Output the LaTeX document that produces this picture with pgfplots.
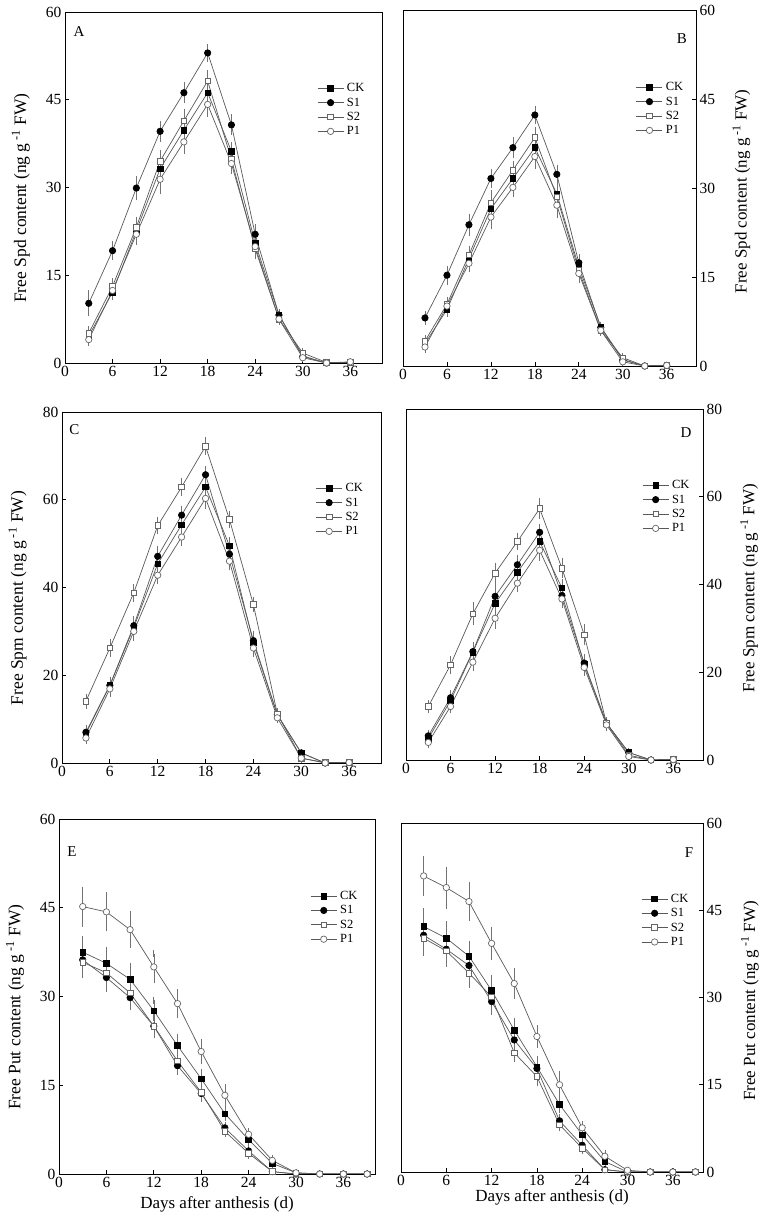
\documentclass[border=0pt]{standalone}
\usepackage{fontspec}
\setmainfont{Liberation Serif}
\usepackage{pgfplots}
\usepackage{pgfplotstable}
\pgfplotsset{compat=1.18}

\newcommand{\fs}[1]{\fontsize{#1}{#1}\selectfont}

% Spd, first set (A)
\pgfplotstableread{
x  ck   cke  s1   s1e  s2   s2e  p1   p1e
3  4.6  0.6  10.2 1.6  5.1  0.6  4.0  0.5
6  12.1 0.7  19.2 1.0  13.1 0.8  12.4 0.7
9  22.6 1.2  29.9 1.5  23.2 1.2  22.0 1.2
12 33.2 1.3  39.6 1.2  34.5 1.3  31.4 2.0
15 39.8 1.5  46.2 1.2  41.4 1.5  37.8 1.4
18 46.2 1.5  53.0 0.9  48.2 1.2  44.2 1.6
21 36.2 1.0  40.7 1.2  34.8 1.2  34.1 1.2
24 20.5 1.2  22.0 1.2  19.5 1.2  19.9 1.2
27 8.2  0.4  8.2  0.4  7.5  0.4  7.5  0.4
30 1.2  0.2  1.1  0.2  1.7  0.2  0.9  0.2
33 0.0  0    0.0  0    0.1  0    0.0  0
36 0.1  0    0.1  0    0.1  0    0.2  0
}\tblA

% Spd, second set (B)
\pgfplotstableread{
x  ck   cke  s1   s1e  s2   s2e  p1   p1e
3  3.8  0.5  8.1  0.6  4.2  0.5  3.2  0.4
6  9.5  0.6  15.3 1.0  10.4 0.7  10.1 0.6
9  18.1 1.0  23.8 1.3  18.7 1.0  17.3 0.9
12 26.5 1.3  31.6 1.0  27.5 1.5  25.1 1.5
15 31.6 1.2  36.8 1.2  33.0 1.0  30.1 1.0
18 36.8 1.3  42.3 1.0  38.5 1.2  35.3 1.5
21 29.0 1.0  32.3 1.0  28.5 1.5  27.1 1.5
24 16.7 1.0  17.4 0.9  16.1 1.0  15.6 1.0
27 6.6  0.3  6.5  0.3  6.0  0.3  6.0  0.3
30 1.1  0.2  1.0  0.2  1.4  0.2  0.7  0.2
33 0.0  0    0.0  0    0.0  0    0.0  0
36 0.1  0    0.1  0    0.1  0    0.1  0
}\tblB

% Spm (C)
\pgfplotstableread{
x  ck   cke  s1   s1e  s2   s2e  p1   p1e
3  6.7  0.8  7.0  0.8  14.1 0.9  5.7  0.6
6  17.7 1.0  17.7 1.1  26.2 1.2  16.9 1.0
9  30.9 1.3  31.3 1.3  38.8 1.3  30.0 1.3
12 45.4 1.5  47.1 1.5  54.1 1.2  42.8 1.3
15 54.3 1.3  56.5 1.3  62.9 1.2  51.5 1.3
18 62.9 1.5  65.7 1.2  72.2 1.2  60.3 1.5
21 49.5 1.2  47.6 1.2  55.5 1.2  46.0 1.2
24 27.4 1.3  27.9 1.3  36.1 1.0  26.2 1.2
27 11.0 0.5  11.0 0.5  11.2 0.5  10.3 0.5
30 2.3  0.2  2.3  0.2  1.1  0.2  1.1  0.2
33 0.0  0    0.0  0    0.1  0    0.0  0
36 0.1  0    0.1  0    0.1  0    0.1  0
}\tblC

% Spm (D)
\pgfplotstableread{
x  ck   cke  s1   s1e  s2   s2e  p1   p1e
3  4.9  0.6  5.5  0.6  12.2 0.7  4.0  0.5
6  13.5 0.9  14.2 0.9  21.7 1.3  12.2 0.8
9  24.6 1.3  24.7 1.3  33.3 1.8  22.3 1.3
12 35.7 1.5  37.3 2.0  42.6 1.6  32.3 1.6
15 42.8 1.3  44.5 1.5  49.8 1.2  40.3 1.3
18 49.8 1.5  51.9 1.2  57.3 1.6  47.8 1.6
21 39.2 1.3  37.5 1.3  43.7 1.5  36.7 1.3
24 21.8 1.2  22.1 1.2  28.5 1.6  21.1 1.2
27 8.4  0.5  8.4  0.5  8.4  0.5  8.0  0.5
30 1.7  0.2  1.7  0.2  1.1  0.2  0.8  0.2
33 0.0  0    0.0  0    0.0  0    0.0  0
36 0.1  0    0.1  0    0.1  0    0.1  0
}\tblD

% Put (E)
\pgfplotstableread{
x  ck   cke  s1   s1e  s2   s2e  p1   p1e
3  37.5 2.2  36.2 2.2  35.8 2.0  45.2 2.8
6  35.6 2.2  33.2 1.8  34.0 2.0  44.3 2.7
9  32.9 2.2  29.8 1.5  30.6 1.8  41.3 2.5
12 27.6 1.8  25.0 1.5  25.0 1.5  35.0 2.2
15 21.7 1.3  18.3 1.0  19.1 1.0  28.8 1.8
18 16.1 1.0  13.6 0.8  13.8 0.8  20.7 1.6
21 10.2 0.6  7.8  0.4  7.2  0.4  13.3 1.3
24 5.8  0.4  3.9  0.3  3.5  0.3  6.7  0.5
27 1.8  0.3  0.4  0.2  0.4  0.2  2.3  0.3
30 0.2  0    0.0  0    0.0  0    0.2  0
33 0.0  0    0.0  0    0.0  0    0.0  0
36 0.0  0    0.0  0    0.0  0    0.0  0
39 0.0  0    0.0  0    0.0  0    0.0  0
}\tblE

% Put (F)
\pgfplotstableread{
x  ck   cke  s1   s1e  s2   s2e  p1   p1e
3  42.2 2.5  40.7 2.5  40.2 2.5  50.9 2.8
6  40.2 2.3  38.3 2.3  38.0 2.2  48.9 3.0
9  37.1 2.0  35.5 2.0  34.2 2.0  46.5 2.7
12 31.2 2.0  29.3 1.7  30.1 1.8  39.3 2.3
15 24.4 1.5  22.7 1.3  20.5 1.0  32.4 2.0
18 18.1 1.2  17.8 1.2  16.4 1.0  23.3 1.3
21 11.6 0.8  8.8  0.5  8.1  0.5  15.0 1.8
24 6.4  0.5  4.6  0.4  4.1  0.4  7.6  0.5
27 1.8  0.4  0.4  0.3  0.4  0.3  2.7  0.4
30 0.0  0    0.0  0    0.0  0    0.3  0
33 0.0  0    0.0  0    0.0  0    0.0  0
36 0.0  0    0.0  0    0.0  0    0.0  0
39 0.0  0    0.0  0    0.0  0    0.0  0
}\tblF

\pgfplotsset{
  panel/.style={
    scale only axis, anchor=south west,
    xmin=0, xmax=40, ymin=0,
    xtick={0,6,...,36},
    tick align=inside, major tick length=4bp,
    axis line style={line width=0.8bp},
    tick style={line width=0.7bp, black},
    /pgf/number format/assume math mode=true,
    tick label style={font=\fs{15.5bp}},
    legend cell align=left,
    legend style={at={(0.795,0.80)}, anchor=north west, draw=none, fill=none,
      inner sep=0pt, row sep=2.6bp, column sep=2bp, font=\fs{12.5bp},
      nodes={inner sep=1bp}},
    legend image code/.code={
      \draw[mark repeat=2, mark phase=2, ##1]
        plot coordinates {(0bp,0bp) (13bp,0bp) (26bp,0bp)};},
    error bars/y dir=both, error bars/y explicit,
    error bars/error bar style={draw=black!55, line width=0.6bp},
    error bars/error mark options={draw=black!55, line width=0.6bp, mark size=3.5bp},
  },
  leftpanel/.style={panel, xtick pos=lower, ytick pos=lower,
    every axis y label/.style={at={(axis description cs:-0.139,0.47)}, rotate=90,
      anchor=center, font=\fs{17.5bp}}},
  rightpanel/.style={panel, xtick pos=lower, ytick pos=upper, yticklabel pos=upper,
    every axis y label/.style={at={(axis description cs:1.155,0.49)}, rotate=90,
      anchor=center, font=\fs{17bp}}},
  ser/.style={draw=black!65, line width=0.7bp},
  ck/.style={ser, mark=square*, mark size=2.8bp, mark options={draw=black, fill=black, solid}},
  s1/.style={ser, mark=*, mark size=3.2bp, mark options={draw=black, fill=black, solid}},
  s2/.style={ser, mark=square*, mark size=2.8bp, mark options={draw=black!60, fill=white, solid}},
  p1/.style={ser, mark=*, mark size=3.2bp, mark options={draw=black!60, fill=white, solid}},
}

\newcommand{\series}[1]{%
  \addplot[ck] table[x=x, y=ck, y error=cke] {#1}; \addlegendentry{CK}
  \addplot[s1] table[x=x, y=s1, y error=s1e] {#1}; \addlegendentry{S1}
  \addplot[s2] table[x=x, y=s2, y error=s2e] {#1}; \addlegendentry{S2}
  \addplot[p1] table[x=x, y=p1, y error=p1e] {#1}; \addlegendentry{P1}
}

\begin{document}
\begin{tikzpicture}
\path[use as bounding box] (0bp,0bp) rectangle (760bp,1217bp);

% A
\begin{axis}[leftpanel, at={(65bp,854bp)}, width=317bp, height=351bp,
  ymax=60, ytick={0,15,...,60},
  ylabel={Free Spd content (ng g\,\textsuperscript{-1} FW)}]
\series{\tblA}
\node[font=\fs{15bp}] at (rel axis cs:0.044,0.943) {A};
\end{axis}

% B
\begin{axis}[rightpanel, at={(403bp,851bp)}, width=293bp, height=356bp,
  ymax=60, ytick={0,15,...,60},
  ylabel={Free Spd content (ng g\,\textsuperscript{-1} FW)}]
\series{\tblB}
\node[font=\fs{15bp}] at (rel axis cs:0.952,0.921) {B};
\end{axis}

% C
\begin{axis}[leftpanel, at={(62bp,454bp)}, width=319bp, height=351bp,
  ymax=80, ytick={0,20,...,80},
  ylabel={Free Spm content (ng g\,\textsuperscript{-1} FW)}]
\series{\tblC}
\node[font=\fs{15bp}] at (rel axis cs:0.039,0.949) {C};
\end{axis}

% D
\begin{axis}[rightpanel, at={(406bp,457bp)}, width=297bp, height=351bp,
  ymax=80, ytick={0,20,...,80},
  ylabel={Free Spm content (ng g\,\textsuperscript{-1} FW)}]
\series{\tblD}
\node[font=\fs{15bp}] at (rel axis cs:0.943,0.934) {D};
\end{axis}

% E
\begin{axis}[leftpanel, at={(59bp,43bp)}, width=316bp, height=355bp,
  ymax=60, ytick={0,15,...,60},
  ylabel={Free Put content (ng g\,\textsuperscript{-1} FW)},
  xlabel={Days after anthesis (d)},
  every axis x label/.style={at={(axis description cs:0.5,-0.085)}, anchor=center,
    font=\fs{17bp}}]
\series{\tblE}
\node[font=\fs{15bp}] at (rel axis cs:0.041,0.907) {E};
\end{axis}

% F
\begin{axis}[rightpanel, at={(401bp,45bp)}, width=302bp, height=349bp,
  ymax=60, ytick={0,15,...,60},
  ylabel={Free Put content (ng g\,\textsuperscript{-1} FW)},
  xlabel={Days after anthesis (d)},
  every axis x label/.style={at={(axis description cs:0.5,-0.072)}, anchor=center,
    font=\fs{17bp}}]
\series{\tblF}
\node[font=\fs{15bp}] at (rel axis cs:0.954,0.914) {F};
\end{axis}
\end{tikzpicture}
\end{document}
